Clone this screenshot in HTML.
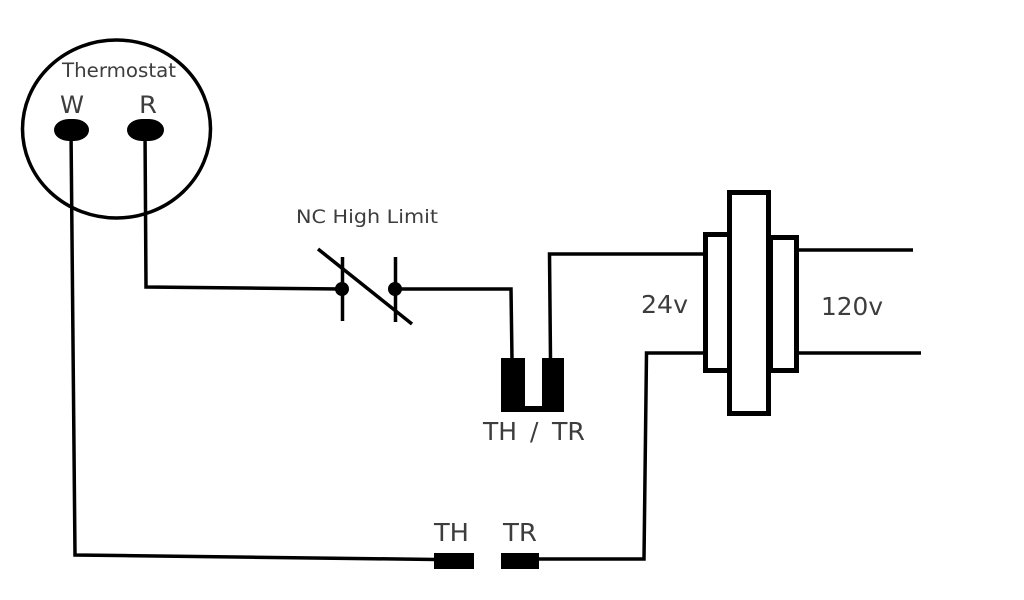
<!DOCTYPE html>
<html>
<head>
<meta charset="utf-8">
<style>
html,body{margin:0;padding:0;background:#fff;width:1024px;height:600px;overflow:hidden}
svg{display:block}
text{font-family:"DejaVu Sans","Liberation Sans",sans-serif;fill:#3c3c3c}
</style>
</head>
<body>
<svg width="1024" height="600" viewBox="0 0 1024 600" xmlns="http://www.w3.org/2000/svg">
<defs><filter id="soft" filterUnits="userSpaceOnUse" x="0" y="0" width="1024" height="600"><feGaussianBlur stdDeviation="0.35"/></filter></defs>
<rect width="1024" height="600" fill="#fff"/>
<g filter="url(#soft)">
<ellipse cx="116.500" cy="129" rx="94" ry="89" fill="none" stroke="#000" stroke-width="3.500"/>
<text x="62" y="77" font-size="19.500" textLength="114" lengthAdjust="spacingAndGlyphs">Thermostat</text>
<text x="60" y="113" font-size="24" textLength="24" lengthAdjust="spacingAndGlyphs">W</text>
<text x="139" y="113" font-size="24" textLength="18" lengthAdjust="spacingAndGlyphs">R</text>
<rect x="54" y="119" width="35" height="22" rx="15" ry="11" fill="#000"/>
<rect x="127" y="119" width="37" height="22" rx="15" ry="11" fill="#000"/>
<g fill="none" stroke="#000" stroke-width="3.500">
<polyline points="71,130 75,555 436,559.500"/>
<polyline points="145,130 146,287 342,289"/>
<line x1="318" y1="249" x2="412" y2="324"/>
<line x1="342.500" y1="257" x2="342.500" y2="321"/>
<line x1="395.500" y1="257" x2="395.500" y2="322"/>
<polyline points="395,289 511,289 512,360"/>
<polyline points="550.500,360 549.500,254 705,254"/>
<polyline points="538,559 644,559 646.500,353 705,353"/>
<line x1="798" y1="250" x2="913" y2="250"/>
<line x1="798" y1="353" x2="921" y2="353"/>
</g>
<circle cx="342" cy="289" r="7" fill="#000"/>
<circle cx="395" cy="289" r="7" fill="#000"/>
<text x="296" y="223" font-size="19" textLength="142" lengthAdjust="spacingAndGlyphs">NC High Limit</text>
<rect x="501" y="358" width="24" height="54" fill="#000"/>
<rect x="542" y="358" width="22" height="54" fill="#000"/>
<rect x="524" y="406" width="19" height="6" fill="#000"/>
<text x="483" y="440" font-size="25" textLength="34" lengthAdjust="spacingAndGlyphs">TH</text>
<text x="530" y="440" font-size="25">/</text>
<text x="552" y="440" font-size="25" textLength="33" lengthAdjust="spacingAndGlyphs">TR</text>
<text x="641" y="313" font-size="25" textLength="47" lengthAdjust="spacingAndGlyphs">24v</text>
<text x="821" y="315" font-size="25" textLength="62" lengthAdjust="spacingAndGlyphs">120v</text>
<text x="434" y="541" font-size="25" textLength="35" lengthAdjust="spacingAndGlyphs">TH</text>
<text x="503" y="541" font-size="25" textLength="34" lengthAdjust="spacingAndGlyphs">TR</text>
<rect x="434" y="553" width="40" height="16" fill="#000"/>
<rect x="501" y="553" width="38" height="16" fill="#000"/>
<rect x="705.500" y="234.500" width="30" height="136" fill="#fff" stroke="#000" stroke-width="5"/>
<rect x="765" y="237.500" width="31.500" height="133" fill="#fff" stroke="#000" stroke-width="5"/>
<rect x="729.500" y="192.500" width="39" height="221" fill="#fff" stroke="#000" stroke-width="5"/>
<rect x="768" y="237" width="5" height="134" fill="#000"/>
</g>
</svg>
</body>
</html>
